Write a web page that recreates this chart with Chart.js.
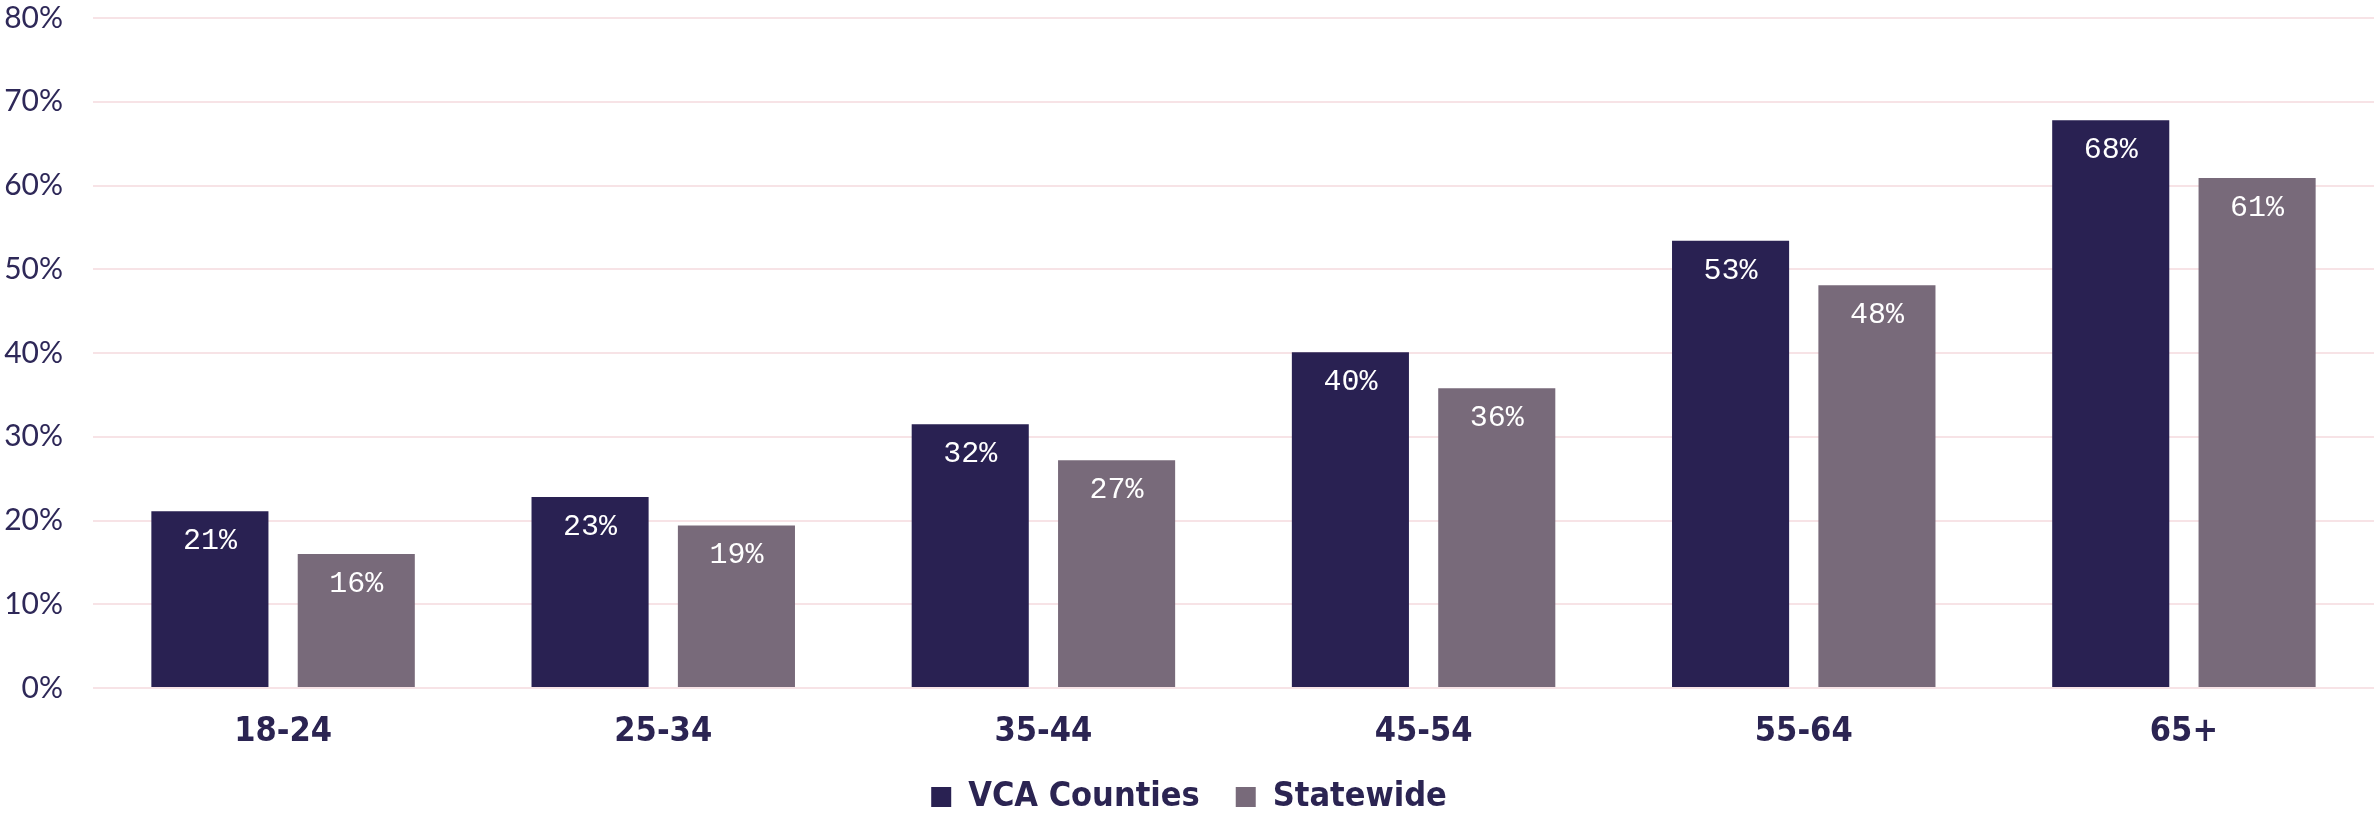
<!DOCTYPE html>
<html>
<head>
<meta charset="utf-8">
<script src="https://cdn.jsdelivr.net/npm/chart.js@4/dist/chart.umd.min.js"></script>
<style>
  html, body { margin: 0; padding: 0; background: #fff; overflow: hidden; }
  canvas { display: block; }
</style>
</head>
<body>
<canvas id="grafico" width="2374" height="815"></canvas>
<script>
// dados
const categorias = ["18-24", "25-34", "35-44", "45-54", "55-64", "65+"];
const vcaCounties = [21.1, 22.8, 31.5, 40.1, 53.4, 67.8];
const statewide = [16.0, 19.4, 27.2, 35.8, 48.1, 60.9];
const yTicks = [0, 10, 20, 30, 40, 50, 60, 70, 80];

const corTexto = "#2b2452";
const fonteCondensada = "'DejaVu Sans Condensed', 'Roboto Condensed', 'Liberation Sans Narrow', Roboto, sans-serif";

// rotulos brancos dentro do topo de cada barra
const rotulosBarras = {
    id: "rotulosBarras",
    afterDatasetsDraw(chart) {
        const ctx = chart.ctx;
        ctx.save();
        ctx.fillStyle = "#ffffff";
        ctx.font = "30px 'Liberation Mono', 'DejaVu Sans Mono', monospace";
        ctx.textAlign = "center";
        ctx.textBaseline = "middle";
        chart.data.datasets.forEach((ds, i) => {
            chart.getDatasetMeta(i).data.forEach((bar, j) => {
                ctx.fillText(Math.round(ds.data[j]) + "%", bar.x, bar.y + 30);
            });
        });
        ctx.restore();
    }
};

new Chart(document.getElementById("grafico"), {
    type: "bar",
    data: {
        labels: categorias,
        datasets: [
            {
                label: "VCA Counties",
                data: vcaCounties,
                backgroundColor: "#292152",
                categoryPercentage: 0.77,
                barPercentage: 0.8,
            },
            {
                label: "Statewide",
                data: statewide,
                backgroundColor: "#786a7a",
                categoryPercentage: 0.77,
                barPercentage: 0.8,
            }
        ]
    },
    options: {
        responsive: false,
        animation: false,
        layout: { padding: { left: 4, right: 0, top: 0, bottom: -9 } },
        scales: {
            x: {
                grid: { display: false, drawTicks: false },
                border: { display: false },
                afterFit: (axis) => { axis.height = 56; },
                ticks: {
                    color: corTexto,
                    padding: 24,
                    font: { family: fonteCondensada, size: 34, weight: "bold" }
                }
            },
            y: {
                min: 0,
                max: 80,
                afterBuildTicks: (axis) => { axis.ticks = yTicks.map(v => ({ value: v })); },
                afterFit: (axis) => {
                    axis.width = 89;
                    axis.paddingTop = 18;
                    axis.paddingBottom = 18;
                },
                grid: { color: "#f7e3e6", lineWidth: 2, drawTicks: false },
                border: { display: false },
                ticks: {
                    color: "#2e2858",
                    padding: 30,
                    font: { family: "Lato, sans-serif", size: 30 },
                    callback: (v) => v + "%"
                }
            }
        },
        plugins: {
            legend: {
                position: "bottom",
                labels: {
                    color: corTexto,
                    boxWidth: 20,
                    boxHeight: 20,
                    padding: 36,
                    font: { family: fonteCondensada, size: 34, weight: "bold" }
                }
            },
            tooltip: { enabled: false }
        }
    },
    plugins: [rotulosBarras]
});
</script>
</body>
</html>
